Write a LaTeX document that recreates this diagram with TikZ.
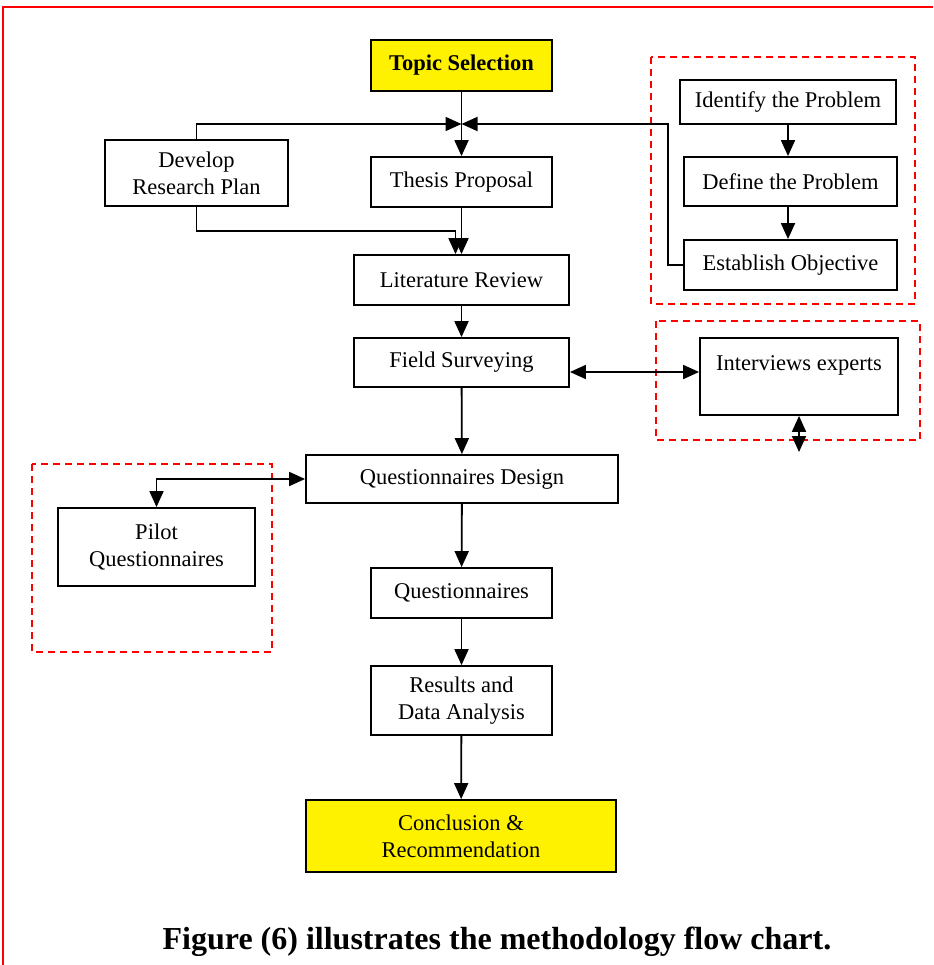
\documentclass[tikz,border=0pt]{standalone}
\usepackage{fontspec}
\setmainfont{Liberation Serif}
\usetikzlibrary{arrows.meta}
\newcommand\boxfont{\fontsize{22.5}{27}\selectfont}

\begin{document}
\begin{tikzpicture}[x=1pt, y=-1pt, >={Triangle[length=16pt, width=14pt]},
		block/.style={draw, line width=1.8pt, align=center, inner sep=0pt, font=\boxfont},
		hilite/.style={block, fill=yellow},
		flow/.style={line width=1.8pt, ->},
		twoway/.style={line width=1.8pt, <->},
		group/.style={draw=red, line width=1.6pt, dash pattern=on 7pt off 5pt}]
			\useasboundingbox (0,0) rectangle (933,965);
			\draw[red, line width=1.6pt] (3,965) -- (3,7) -- (933,7);
			\draw[group] (651,57) rectangle (915,304);
			\draw[group] (656,321) rectangle (920,440);
			\draw[group] (32,464) rectangle (272,652);
			\node[hilite, minimum width=181pt, minimum height=51pt, font=\boxfont\bfseries] (topic) at (461.5,65.5) {Topic Selection};
			\node[block, minimum width=181pt, minimum height=50pt] (thesis) at (461.5,182) {Thesis Proposal};
			\node[block, minimum width=183pt, minimum height=66pt] (plan) at (196.5,173) {Develop\\Research Plan};
			\node[block, minimum width=215pt, minimum height=50pt] (lit) at (461.5,280) {Literature Review};
			\node[block, minimum width=215pt, minimum height=49pt] (field) at (461.5,362.5) {Field Surveying};
			\node[block, minimum width=198pt, minimum height=77pt] (interv) at (799,376.5) {Interviews experts\\\mbox{}};
			\node[block, minimum width=216pt, minimum height=44pt] (ident) at (788,102) {Identify the Problem};
			\node[block, minimum width=213pt, minimum height=49pt] (define) at (790.5,181.5) {Define the Problem};
			\node[block, minimum width=213pt, minimum height=50pt] (establ) at (790.5,265) {Establish Objective};
			\node[block, minimum width=312pt, minimum height=48pt] (qdesign) at (462,479) {Questionnaires Design};
			\node[block, minimum width=197pt, minimum height=78pt] (pilot) at (156.5,547) {Pilot\\Questionnaires};
			\node[block, minimum width=181pt, minimum height=50pt] (quest) at (461.5,593) {Questionnaires};
			\node[block, minimum width=181pt, minimum height=69pt] (results) at (461.5,700.5) {Results and\\Data Analysis};
			\node[hilite, minimum width=310pt, minimum height=72pt] (concl) at (461,836) {Conclusion \&\\Recommendation};
			\node[font=\fontsize{32}{38}\selectfont\bfseries] (caption) at (497,942) {Figure (6) illustrates the methodology flow chart.};
			\coordinate (jn) at (461.5,124);
			\coordinate (bend) at (668,124);
			\coordinate (ivend) at (799,452);
			\draw[flow] (topic) -- (thesis);
			\draw[flow] (plan.north) |- (jn);
			\draw[flow] (establ.west) -| (bend) -- (jn);
			\draw[flow] (plan.south) -- ++(0,24) -| ([xshift=-6pt]lit.north);
			\draw[flow] (thesis) -- (lit);
			\draw[flow] (ident) -- (ident |- define.north);
			\draw[flow] (define.south -| ident) -- (ident |- establ.north);
			\draw[flow] (lit) -- (field);
			\draw[twoway] ([yshift=4.5pt]interv.west) -- ([yshift=4.5pt]interv.west -| field.east);
			\draw[twoway] (interv.south) -- (ivend);
			\draw[flow] (field) -- (qdesign);
			\draw[twoway] (qdesign.west) -| (pilot.north);
			\draw[flow] (qdesign) -- (quest);
			\draw[flow] (quest) -- (results);
			\draw[flow] (results) -- (concl);
		\end{tikzpicture}
\end{document}
